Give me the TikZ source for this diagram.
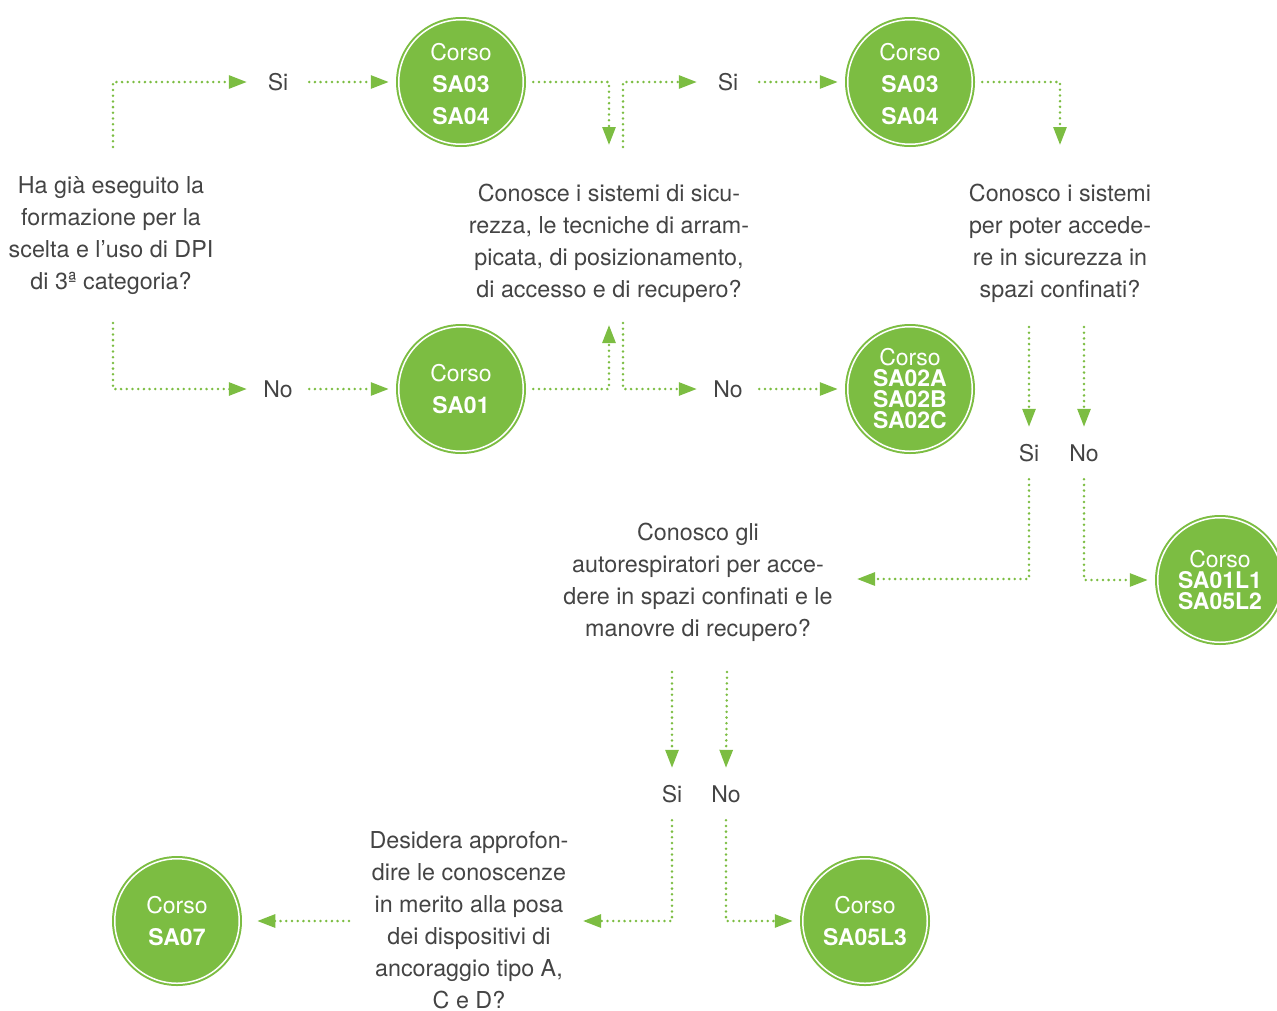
\documentclass[tikz,border=0pt]{standalone}
\usepackage{fontspec}
\setmainfont{TeX Gyre Heros}
\usetikzlibrary{arrows.meta}
\definecolor{gr}{HTML}{7CBD42}
\definecolor{tx}{HTML}{444444}
\tikzset{
  conn/.style={draw=gr, line width=2.8pt, dash pattern=on 0pt off 5.7pt, line cap=round,
    -{Triangle[length=18pt,width=13pt]}},
  course/.style={circle, fill=gr, draw=gr, double=white, double distance=1.5pt, line width=2pt,
    minimum size=124.5pt, inner sep=0pt, outer sep=10pt, text=white, align=center,
    font=\fontsize{23}{32}\selectfont},
  coursetight/.style={course, font=\fontsize{23}{21}\selectfont},
  ques/.style={align=center, inner sep=0pt, text=tx, font=\fontsize{23.3}{32}\selectfont},
  lblh/.style={inner sep=0pt, minimum width=62pt, text=tx, font=\fontsize{23}{28}\selectfont},
  lblv/.style={inner sep=0pt, minimum height=52pt, text=tx, font=\fontsize{23}{28}\selectfont},
}
\begin{document}
\begin{tikzpicture}[x=1pt,y=-1pt]
\useasboundingbox (0,0) rectangle (1277,1010);
% questions
\node[ques] (q1) at (111,236) {Ha già eseguito la\\formazione per la\\scelta e l’uso di DPI\\di 3ª categoria?};
\node[ques] (q2) at (609,243) {Conosce i sistemi di sicu-\\rezza, le tecniche di arram-\\picata, di posizionamento,\\di accesso e di recupero?};
\node[ques] (q3) at (1060,243) {Conosco i sistemi\\per poter accede-\\re in sicurezza in\\spazi confinati?};
\node[ques] (q4) at (698,582) {Conosco gli\\autorespiratori per acce-\\dere in spazi confinati e le\\manovre di recupero?};
\node[ques] (q5) at (469,920) {Desidera approfon-\\dire le conoscenze\\in merito alla posa\\dei dispositivi di\\ancoraggio tipo A,\\C e D?};
% courses
\node[course] (c1) at (461,82) {\rule{0pt}{21pt}Corso\\\bfseries SA03\\\bfseries SA04};
\node[course] (c2) at (910,82) {\rule{0pt}{21pt}Corso\\\bfseries SA03\\\bfseries SA04};
\node[course] (c3) at (461,389) {Corso\\\bfseries SA01};
\node[coursetight] (c4) at (910,389) {Corso\\\bfseries SA02A\\\bfseries SA02B\\\bfseries SA02C};
\node[coursetight] (c5) at (1220,580) {Corso\\\bfseries SA01L1\\\bfseries SA05L2};
\node[course] (c6) at (177,921) {Corso\\\bfseries SA07};
\node[course] (c7) at (865,921) {Corso\\\bfseries SA05L3};
% labels
\node[lblh] (s1) at (278,82) {Si};
\node[lblh] (n1) at (278,389) {No};
\node[lblh] (s2) at (728,82) {Si};
\node[lblh] (n2) at (728,389) {No};
\node[lblv] (s3) at (1029,453) {Si};
\node[lblv] (n3) at (1084,453) {No};
\node[lblv] (s4) at (672,794) {Si};
\node[lblv] (n4) at (726,794) {No};
% connector end points near the questions
\coordinate (q1t) at (113,147);
\coordinate (q1b) at (113,323);
\coordinate (q2ti) at (609,145);
\coordinate (q2to) at (623,147);
\coordinate (q2bi) at (609,325);
\coordinate (q2bo) at (623,323);
\coordinate (q3ti) at (1060,145);
\coordinate (q3b1) at (1029,327);
\coordinate (q3b2) at (1084,327);
\coordinate (q4r) at (857,579);
\coordinate (q4b1) at (672,672);
\coordinate (q4b2) at (727,672);
\coordinate (q5r) at (583,921);
\coordinate (q5l) at (349,921);
% connectors
\draw[conn] (q1t) |- (s1.west);
\draw[conn] (s1.east) -- (c1.west);
\draw[conn] (q1b) |- (n1.west);
\draw[conn] (n1.east) -- (c3.west);
\draw[conn] (c1.east) -| (q2ti);
\draw[conn] (q2to) |- (s2.west);
\draw[conn] (s2.east) -- (c2.west);
\draw[conn] (c2.east) -| (q3ti);
\draw[conn] (c3.east) -| (q2bi);
\draw[conn] (q2bo) |- (n2.west);
\draw[conn] (n2.east) -- (c4.west);
\draw[conn] (q3b1) -- (s3.north);
\draw[conn] (q3b2) -- (n3.north);
\draw[conn] (s3.south) |- (q4r);
\draw[conn] (n3.south) |- (c5.west);
\draw[conn] (q4b1) -- (s4.north);
\draw[conn] (q4b2) -- (n4.north);
\draw[conn] (s4.south) |- (q5r);
\draw[conn] (n4.south) |- (c7.west);
\draw[conn] (q5l) -- ([xshift=8pt]c6.east);
\end{tikzpicture}
\end{document}
